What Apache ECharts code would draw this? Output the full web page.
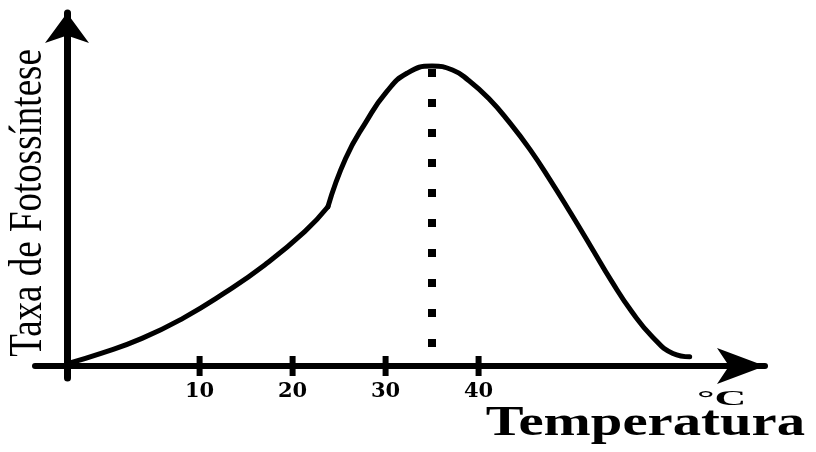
<!DOCTYPE html>
<html>
<head>
<meta charset="utf-8">
<script src="https://cdn.jsdelivr.net/npm/echarts@6/dist/echarts.min.js"></script>
<style>
html,body{margin:0;padding:0;background:#fff;}
#chart{width:816px;height:452px;}
</style>
</head>
<body>
<div id="chart"></div>
<script>
// Data
const temperatures = [-4.2, -0.6, 3.8, 8.2, 12.6, 17.0, 21.3, 23.8, 25.7, 27.9, 30.1, 32.3, 35.0, 37.2, 38.9, 41.1, 43.3, 45.5, 47.7, 49.9, 52.1, 54.3, 56.5, 58.7, 60.9, 62.7];
const photosynthesisRate = [0.8, 4.2, 9.2, 15.9, 24.2, 33.7, 44.8, 53.1, 69.2, 81.4, 91.4, 97.6, 100, 98.7, 95.3, 89.2, 81.3, 72.3, 62, 51, 39.7, 28.3, 18, 9.7, 4.2, 3.1];
const kinkTemp = 23.8; // where the curve bends sharply upward
const tickValues = [10, 20, 30, 40];
const optimumTemp = 35;
const dottedStartRate = 99;
const dottedEndRate = 5;
const yTitle = 'Taxa de Fotossíntese';
const xTitle = 'Temperatura';
const xUnit = '°C';

const chart = echarts.init(document.getElementById('chart'), null, {renderer: 'canvas'});
const curve = temperatures.map((t, i) => [t, photosynthesisRate[i]]);
const kinkIdx = temperatures.indexOf(kinkTemp);
const lowerPart = curve.slice(0, kinkIdx + 1);
const upperPart = curve.slice(kinkIdx);

const lineBase = {
  type: 'line',
  name: yTitle,
  smooth: 0.5,
  showSymbol: false,
  lineStyle: {color: '#000', width: 5, cap: 'round', join: 'round'},
  z: 5
};

const option = {
  animation: false,
  backgroundColor: '#ffffff',
  grid: {left: 35, right: 51, top: 13, bottom: 74},
  xAxis: {
    type: 'value',
    min: -7.7,
    max: 70.8,
    axisLine: {show: true, onZero: true, symbol: ['none', 'arrow'], symbolSize: [27, 48],
      lineStyle: {color: '#000', width: 6}},
    axisTick: {show: false},
    splitLine: {show: false},
    axisLabel: {
      show: true,
      customValues: tickValues,
      margin: 3,
      fontFamily: '"DejaVu Serif"',
      fontWeight: 'bold',
      fontSize: 21,
      color: '#000'
    }
  },
  yAxis: {
    type: 'value',
    min: -4,
    max: 117.7,
    offset: -32,
    axisLine: {show: true, onZero: false, symbol: ['none', 'arrow'], symbolSize: [33, 30],
      lineStyle: {color: '#000', width: 7}},
    axisTick: {show: false},
    axisLabel: {show: false},
    splitLine: {show: false}
  },
  series: [
    Object.assign({}, lineBase, {data: lowerPart}),
    Object.assign({}, lineBase, {
      data: upperPart,
      markLine: {
        silent: true,
        symbol: ['none', 'none'],
        label: {show: false},
        lineStyle: {color: '#000', width: 8, type: [8, 22], cap: 'butt'},
        data: [[{coord: [optimumTemp, dottedStartRate]}, {coord: [optimumTemp, dottedEndRate]}]]
      }
    }),
    {
      name: 'ticks',
      type: 'scatter',
      data: tickValues.map(v => [v, 0]),
      symbol: 'rect',
      symbolSize: [6, 20],
      itemStyle: {color: '#000', opacity: 1},
      z: 6,
      silent: true
    }
  ],
  graphic: [
    {
      type: 'text',
      x: 29, y: 203,
      rotation: Math.PI / 2,
      scaleY: 1.25,
      style: {text: yTitle, fontFamily: '"Liberation Serif"', fontSize: 37, fill: '#000',
        align: 'center', verticalAlign: 'middle', textAlign: 'center', textVerticalAlign: 'middle'}
    },
    {
      type: 'text',
      x: 805, y: 424,
      scaleX: 1.35,
      style: {text: xTitle, fontFamily: '"Liberation Serif"', fontWeight: 'bold', fontSize: 42, fill: '#000',
        align: 'right', verticalAlign: 'middle', textAlign: 'right', textVerticalAlign: 'middle'}
    },
    {
      type: 'text',
      x: 697, y: 400,
      scaleX: 2.2,
      style: {text: xUnit, fontFamily: '"Liberation Serif"', fontWeight: 'bold', fontSize: 20, fill: '#000',
        align: 'left', verticalAlign: 'middle', textAlign: 'left', textVerticalAlign: 'middle'}
    }
  ]
};
chart.setOption(option);
</script>
</body>
</html>
